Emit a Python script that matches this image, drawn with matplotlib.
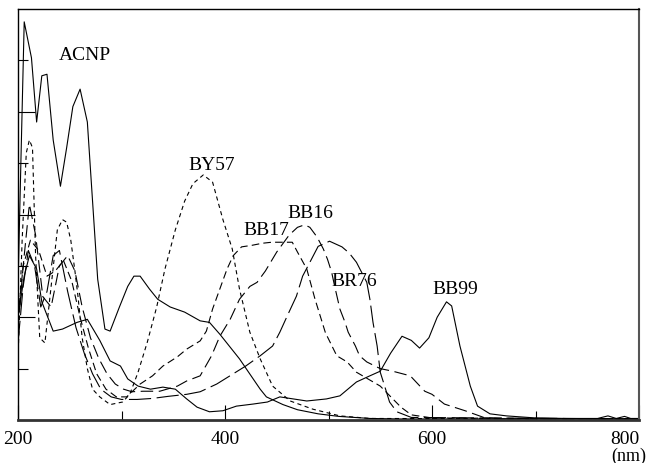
import matplotlib
matplotlib.use('Agg')
import matplotlib.pyplot as plt

plt.rcParams['font.family'] = 'Liberation Serif'
plt.rcParams['lines.scale_dashes'] = False

# wavelength (nm) / absorbance pairs
acnp_x = [200, 203, 206, 213, 218, 223, 228, 234, 241, 247, 253, 260, 267, 277, 284, 289,
          298, 306, 312, 318, 327, 335, 347, 361, 376, 385, 395, 414, 434, 440, 456, 470,
          490, 510, 540, 570, 800]
acnp_y = [2.6, 5.2, 7.75, 7.05, 5.8, 6.7, 6.73, 5.45, 4.55, 5.3, 6.1, 6.44, 5.8, 2.74, 1.77, 1.73,
          2.2, 2.6, 2.8, 2.8, 2.55, 2.35, 2.2, 2.1, 1.93, 1.9, 1.67, 1.19, 0.6, 0.45, 0.3, 0.2,
          0.12, 0.07, 0.03, 0.02, 0.02]

by57_x = [200, 204, 208, 211, 214, 217, 221, 226, 232, 238, 243, 247, 251, 255, 258, 262, 267,
          272, 279, 289, 301, 308, 316, 325, 334, 342, 352, 361, 369, 379, 388, 398, 407, 414,
          424, 434, 446, 463, 485, 511, 540, 800]
by57_y = [1.2, 3.5, 5.2, 5.45, 5.3, 3.2, 1.6, 1.5, 2.6, 3.7, 3.9, 3.85, 3.5, 2.9, 2.4, 1.6, 1.0,
          0.6, 0.45, 0.3, 0.35, 0.5, 0.93, 1.52, 2.2, 2.94, 3.7, 4.26, 4.6, 4.77, 4.63, 3.9, 3.33,
          2.55, 1.71, 1.19, 0.66, 0.37, 0.21, 0.08, 0.03, 0.02]

bb17_x = [200, 205, 212, 220, 228, 236, 244, 252, 260, 268, 276, 285, 295, 305, 318, 330, 340,
          354, 363, 376, 382, 388, 395, 402, 408, 416, 426, 436, 445, 455, 465, 470, 479, 487,
          497, 508, 518, 527, 550, 570, 580, 600, 800]
bb17_y = [2.0, 3.0, 3.5, 3.3, 2.8, 2.9, 3.1, 2.7, 2.0, 1.4, 0.9, 0.6, 0.45, 0.45, 0.7, 0.86, 1.05,
          1.23, 1.38, 1.54, 1.73, 2.16, 2.55, 2.94, 3.2, 3.37, 3.4, 3.44, 3.46, 3.46, 3.46, 3.27,
          2.94, 2.35, 1.7, 1.25, 1.13, 0.93, 0.66, 0.25, 0.1, 0.04, 0.02]

bb16_x = [200, 205, 211, 217, 224, 232, 240, 248, 255, 262, 270, 278, 286, 294, 302, 310, 321,
          337, 354, 363, 376, 387, 395, 405, 414, 424, 431, 439, 450, 462, 470, 477, 482, 489,
          495, 499, 503, 506, 511, 516, 519, 526, 530, 537, 550, 562, 579, 593, 600, 612, 632,
          650, 670, 800]
bb16_y = [1.8, 3.0, 4.2, 3.6, 2.4, 2.2, 3.0, 3.2, 2.9, 2.2, 1.6, 1.2, 0.9, 0.7, 0.6, 0.55, 0.56,
          0.56, 0.66, 0.76, 0.86, 1.25, 1.63, 1.96, 2.35, 2.6, 2.68, 2.9, 3.27, 3.6, 3.75, 3.8,
          3.75, 3.56, 3.33, 3.13, 2.88, 2.6, 2.16, 1.9, 1.71, 1.44, 1.25, 1.13, 1.0, 0.95, 0.86,
          0.56, 0.5, 0.31, 0.18, 0.05, 0.02, 0.02]

br76_x = [200, 205, 210, 216, 222, 228, 234, 240, 248, 256, 264, 272, 280, 290, 300, 315, 330,
          345, 363, 376, 392, 408, 420, 434, 446, 453, 460, 469, 475, 482, 490, 501, 513, 520,
          527, 537, 540, 543, 547, 550, 553, 559, 566, 580, 800]
br76_y = [1.5, 2.6, 3.3, 3.0, 2.2, 2.5, 3.2, 3.3, 2.5, 1.8, 1.3, 0.9, 0.6, 0.45, 0.4, 0.4, 0.42,
          0.46, 0.5, 0.55, 0.7, 0.9, 1.05, 1.25, 1.44, 1.71, 2.02, 2.41, 2.8, 3.07, 3.38, 3.48,
          3.37, 3.25, 3.07, 2.68, 2.35, 1.9, 1.44, 0.93, 0.74, 0.35, 0.16, 0.05, 0.02]

bb99_x = [200, 206, 211, 218, 223, 234, 243, 257, 267, 279, 289, 299, 306, 316, 328, 340, 352,
          363, 373, 385, 398, 411, 427, 441, 453, 466, 479, 498, 511, 527, 540, 550, 560, 571,
          580, 588, 597, 605, 614, 619, 627, 637, 644, 656, 672, 700, 730, 760, 770, 778, 786,
          792, 800]
bb99_y = [2.0, 2.8, 3.2, 2.94, 2.3, 1.73, 1.77, 1.9, 1.96, 1.55, 1.15, 1.05, 0.8, 0.66, 0.6,
          0.64, 0.6, 0.41, 0.25, 0.16, 0.18, 0.27, 0.31, 0.35, 0.45, 0.41, 0.37, 0.41, 0.47, 0.74,
          0.86, 0.95, 1.3, 1.63, 1.55, 1.4, 1.6, 2.0, 2.3, 2.22, 1.44, 0.66, 0.27, 0.12, 0.08,
          0.04, 0.03, 0.03, 0.08, 0.03, 0.07, 0.03, 0.03]

fig = plt.figure(figsize=(6.48, 4.64), dpi=100)
ax = fig.add_axes([18 / 648, 43 / 464, 621 / 648, 411 / 464])

lw = 0.8
ax.plot(acnp_x, acnp_y, color='black', lw=lw)
ax.plot(bb99_x, bb99_y, color='black', lw=lw)
ax.plot(by57_x, by57_y, color='black', lw=lw, dashes=(3.0, 2.5))
ax.plot(bb17_x, bb17_y, color='black', lw=lw, dashes=(5.5, 3.0))
ax.plot(bb16_x, bb16_y, color='black', lw=lw, dashes=(9.0, 4.0))
ax.plot(br76_x, br76_y, color='black', lw=lw, dashes=(16.0, 4.0))

# curve labels
fs = 14
ax.text(265, 6.95, 'ACNP', fontsize=fs, ha='center', va='bottom')
ax.text(387, 4.8, 'BY57', fontsize=fs, ha='center', va='bottom')
ax.text(440, 3.55, 'BB17', fontsize=fs, ha='center', va='bottom')
ax.text(482, 3.88, 'BB16', fontsize=fs, ha='center', va='bottom')
ax.text(525, 2.55, 'BR76', fontsize=fs, ha='center', va='bottom')
ax.text(622, 2.4, 'BB99', fontsize=fs, ha='center', va='bottom')

ax.set_xlim(200, 800)
ax.set_ylim(0, 8)
ax.set_xticks([200, 400, 600, 800])
ax.set_xticks([300, 500, 700], minor=True)
ax.set_xticklabels(['200', '400', '600', '800'], fontsize=14)
ax.get_xticklabels()[-1].set_ha('right')
ax.set_yticks([2, 4, 6])
ax.set_yticks([1, 3, 5, 7], minor=True)
ax.set_yticklabels([])
ax.tick_params(axis='x', which='major', direction='in', length=11, width=0.8, pad=7)
ax.tick_params(axis='x', which='minor', direction='in', length=6.5, width=0.8)
ax.tick_params(axis='y', which='major', direction='in', length=12, width=0.8)
ax.tick_params(axis='y', which='minor', direction='in', length=7, width=0.8)
for s in ax.spines.values():
    s.set_linewidth(1.0)
ax.spines['bottom'].set_linewidth(2.0)
ax.spines['bottom'].set_color('#333333')
ax.spines['right'].set_color('#555555')
ax.spines['right'].set_linewidth(1.5)

fig.text(646 / 648, 1 - 448 / 464, '(nm)', fontsize=13, ha='right', va='top')

fig.savefig('out.png', dpi=100)
